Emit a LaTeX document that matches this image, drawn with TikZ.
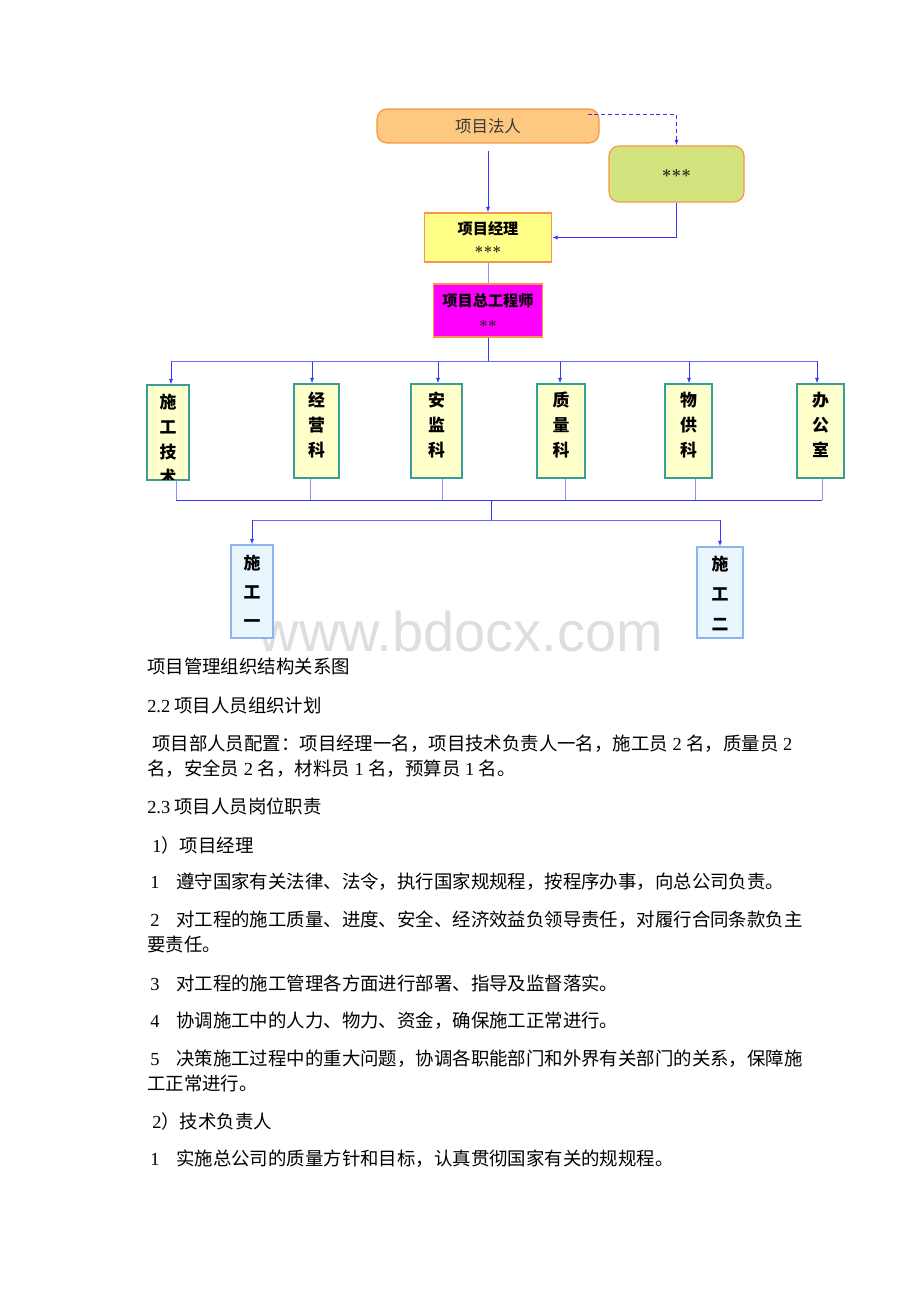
\documentclass[tikz,border=0pt]{standalone}
\usepackage{fontspec}
\setmainfont{Noto Sans CJK SC}
\newfontfamily\latin{Liberation Serif}
\newfontfamily\wmfont{Liberation Sans}
\usepackage{tikz}
\usetikzlibrary{arrows.meta}
\definecolor{orangefill}{HTML}{FDC880}
\definecolor{orangeline}{HTML}{F79646}
\definecolor{greenfill}{HTML}{D1E47E}
\definecolor{yellowfill}{HTML}{FFFF88}
\definecolor{pinkfill}{HTML}{FF00FF}
\definecolor{deptfill}{HTML}{FFFFCC}
\definecolor{deptline}{HTML}{3A9E96}
\definecolor{teamfill}{HTML}{E9F6FD}
\definecolor{teamline}{HTML}{8DB4EE}
\definecolor{linkblue}{HTML}{3535FF}
\newcommand\nm[1]{{\latin #1}}
\newcommand\stars[1]{{\color{black!85}$\boldsymbol{#1}$}}
\usepackage{amsmath}
\tikzset{top node/.style={rounded corners=0.25cm,fill=orangefill,draw=orangeline,line width=0.8pt,inner sep=0pt},
            boss node/.style={fill=yellowfill,draw=orangeline,line width=0.8pt,inner sep=0pt,align=center,font=\fontsize{10.8}{13}\selectfont},
            dept node/.style={fill=deptfill,draw=deptline,line width=0.8pt,minimum height=2.35cm,inner sep=0pt},
            team node/.style={fill=teamfill,draw=teamline,line width=0.8pt,inner sep=0pt},
            col text/.style={align=center,inner sep=0pt,font=\bfseries\fontsize{12}{17.8}\selectfont},
            link/.style={draw=linkblue,line width=0.7pt},
            link arrow/.style={link,-{Latex[length=4pt,width=3pt]}},
            body text/.style={anchor=west,inner sep=0pt,font=\fontsize{13.1}{16}\selectfont},
            }

\begin{document}
\begin{tikzpicture}[x=0.025cm,y=-0.025cm]
    \useasboundingbox[fill=white] (0,0) rectangle (920,1302);
    \node[text=black!13,font=\wmfont\fontsize{39.8}{40}\selectfont,inner sep=0pt,anchor=base,text depth=0pt] (wm) at (461,651) {www.bdocx.com};

    % top of the chart
    \node[top node,minimum width=5.55cm,minimum height=0.85cm,text=black!78,font=\fontsize{11.7}{14}\selectfont] (fr) at (488,126) {项目法人};
    \node[top node,fill=greenfill,minimum width=3.375cm,minimum height=1.4cm,font=\fontsize{12.5}{14}\selectfont] (dw) at (676.5,174) {\stars{{\ast}{\ast}{\ast}}};
    \node[boss node,minimum width=3.175cm,minimum height=1.225cm] (jl) at (488,237.5) {\bfseries 项目经理\\[1pt]\stars{{\ast}{\ast}{\ast}}};
    \node[boss node,fill=pinkfill,minimum width=2.725cm,minimum height=1.325cm] (zg) at (488,310.5) {\bfseries 项目总工程师\\[2pt]\stars{{\ast}{\ast}}};

    % departments
    \node[dept node,minimum width=1.05cm,minimum height=2.375cm] (sg) at (168,432.5) {};
    \node[dept node,minimum width=1.125cm] (jy) at (316.5,431) {};
    \node[dept node,minimum width=1.275cm] (aj) at (436.5,431) {};
    \node[dept node,minimum width=1.2cm] (zl) at (561,431) {};
    \node[dept node,minimum width=1.175cm] (wg) at (688.5,431) {};
    \node[dept node,minimum width=1.175cm] (bg) at (820.5,431) {};
    \begin{scope}
        \clip (sg.south west) rectangle (sg.north east);
        \node[col text] (sg-t) at (168,439.5) {施\\工\\技\\术};
    \end{scope}
    \draw[draw=deptline,line width=0.8pt] (sg.south west) rectangle (sg.north east);
    \node[col text] (jy-t) at (316.5,425) {经\\营\\科};
    \node[col text] (aj-t) at (436.5,425) {安\\监\\科};
    \node[col text] (zl-t) at (561,425) {质\\量\\科};
    \node[col text] (wg-t) at (688.5,425) {物\\供\\科};
    \node[col text] (bg-t) at (820.5,425) {办\\公\\室};

    % work teams
    \node[team node,minimum width=1.05cm,minimum height=2.325cm] (t1) at (252,591.5) {};
    \node[team node,minimum width=1.15cm,minimum height=2.275cm] (t2) at (720,592.5) {};
    \node[col text,font=\bfseries\fontsize{12}{20.6}\selectfont] (t1-t) at (252,591.5) {施\\工\\一};
    \node[col text,font=\bfseries\fontsize{12}{21.6}\selectfont] (t2-t) at (720,593.5) {施\\工\\二};

    % connectors
    \draw[link,dashed,dash pattern=on 2.8pt off 2.1pt,-{Latex[length=4pt,width=3pt]}] ([xshift=-0.3cm,yshift=-0.15cm]fr.north east) -| (dw.north);
    \draw[link arrow] ([yshift=-0.175cm]fr.south) -- (jl.north);
    \draw[link arrow] (dw.south) |- (jl.east);
    \draw[link,draw=linkblue!55] (jl.south) -- (zg.north);
    \coordinate (hub) at (488,361);
    \draw[link] (zg.south) -- (hub);
    \foreach \n/\x in {sg/171,jy/312,aj/438,zl/560,wg/689,bg/817} {
        \coordinate (d\n) at (\x,361);
        \draw[link arrow] (d\n) -- (d\n |- \n.north);
    }
    \draw[link,draw=linkblue!75] (dsg) -- (dbg);
    \foreach \n/\x in {sg/176,jy/310,aj/442,zl/565,wg/695,bg/822} {
        \coordinate (u\n) at (\x,500);
        \draw[link,draw=linkblue!55] (u\n |- \n.south) -- (u\n);
    }
    \draw[link] (usg) -- (ubg);
    \coordinate (hub2) at (491,500);
    \coordinate (hub3) at (491,520);
    \draw[link] (hub2) -- (hub3);
    \coordinate (v1) at (252,520);
    \coordinate (v2) at (720,520);
    \draw[link,draw=linkblue!75] (v1) -- (v2);
    \draw[link arrow] (v1) -- (t1.north);
    \draw[link arrow] (v2) -- (t2.north);

    % text under the chart
    \node[body text] (p1) at (147,666) {项目管理组织结构关系图};
    \node[body text] (p2) at (147,706) {\nm{2.2} 项目人员组织计划};
    \node[body text] (p3) at (152,744) {项目部人员配置：项目经理一名，项目技术负责人一名，施工员\nm{~2~}名，质量员\nm{~2}};
    \node[body text] (p4) at (147,769) {名，安全员\nm{~2~}名，材料员\nm{~1~}名，预算员\nm{~1~}名。};
    \node[body text] (p5) at (147,806) {\nm{2.3} 项目人员岗位职责};
    \node[body text] (p6) at (152,845) {\nm{1}）项目经理};
    \node[body text] (p7) at (150,882) {\nm{1}\hspace{0.42cm}遵守国家有关法律、法令，执行国家规规程，按程序办事，向总公司负责。};
    \node[body text] (p8) at (150,920) {\nm{2}\hspace{0.42cm}对工程的施工质量、进度、安全、经济效益负领导责任，对履行合同条款负主};
    \node[body text] (p9) at (147,945) {要责任。};
    \node[body text] (p10) at (150,983) {\nm{3}\hspace{0.42cm}对工程的施工管理各方面进行部署、指导及监督落实。};
    \node[body text] (p11) at (150,1021) {\nm{4}\hspace{0.42cm}协调施工中的人力、物力、资金，确保施工正常进行。};
    \node[body text] (p12) at (150,1059) {\nm{5}\hspace{0.42cm}决策施工过程中的重大问题，协调各职能部门和外界有关部门的关系，保障施};
    \node[body text] (p13) at (147,1084) {工正常进行。};
    \node[body text] (p14) at (152,1121) {\nm{2}）技术负责人};
    \node[body text] (p15) at (150,1159) {\nm{1}\hspace{0.42cm}实施总公司的质量方针和目标，认真贯彻国家有关的规规程。};
\end{tikzpicture}
\end{document}
